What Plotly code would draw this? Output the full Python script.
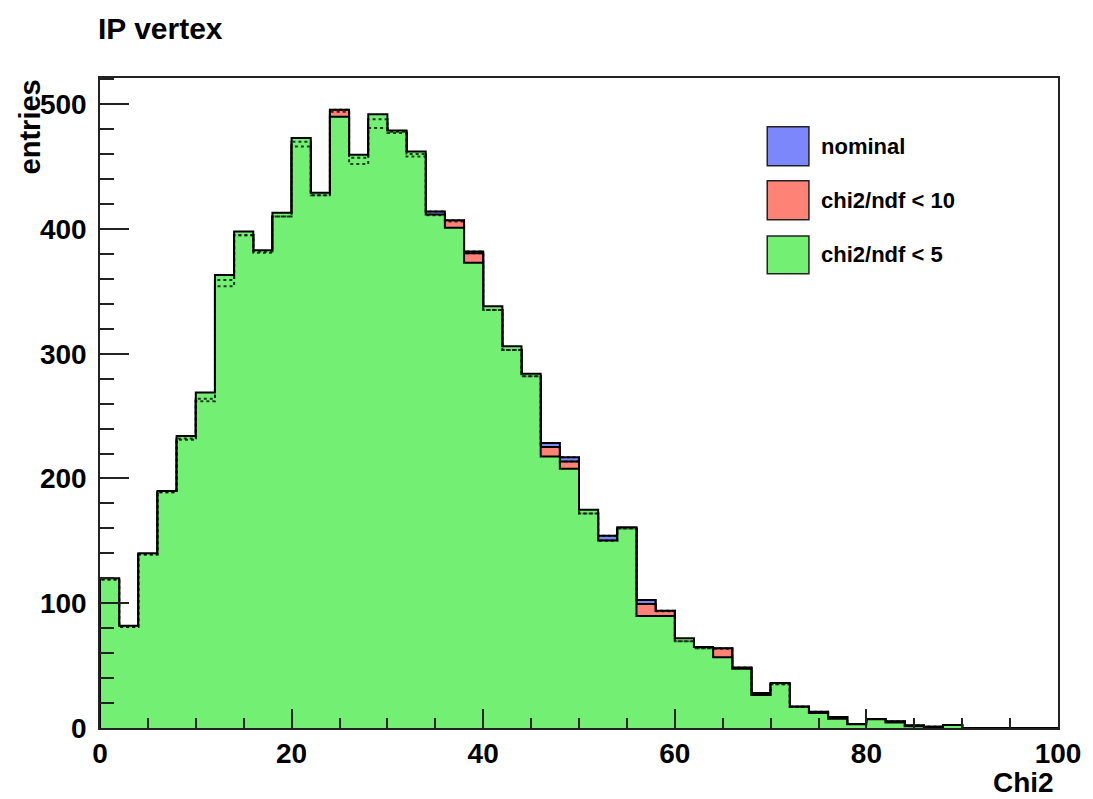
import plotly.graph_objects as go

# Histogram binning: 50 bins of width 2 on [0, 100]
bin_edges = list(range(0, 102, 2))

# Entries per bin for the three vertex selections
nominal = [119, 81, 139, 189, 231, 262, 354, 395, 381, 410,
           466, 427, 494, 452, 481, 477, 458, 414, 406, 382,
           335, 303, 282, 228.5, 217, 172, 154, 160, 102.6, 93.5,
           69.5, 64, 63.5, 48.5, 28, 35, 17, 13, 8.8, 3.2,
           7.2, 5.5, 2, 1, 2.5, 0, 0, 0, 0, 0]
chi2_lt10 = [119, 81, 139, 189, 232, 264, 359, 395, 382, 410,
             470, 427, 495.5, 457, 488, 478, 460, 411, 407, 380.5,
             335, 303, 282, 225.3, 213.6, 172, 150, 160, 99.4, 94,
             69.5, 64, 64, 48, 27, 35, 17, 12.5, 8.5, 3.2,
             7.2, 5, 2, 1, 2.5, 0, 0, 0, 0, 0]
chi2_lt5 = [120, 82, 140, 190, 234, 269, 363, 398, 383, 413,
            473, 429, 490, 459.5, 492, 479, 462, 411.5, 401, 373,
            338, 306, 284, 217.6, 207.8, 175, 150.3, 161, 89.8, 89.8,
            72, 65, 56.7, 47.5, 26.5, 36, 17, 12, 7.5, 3,
            7, 4.5, 1.5, 0, 2.5, 0, 0, 0, 0, 0]

series_names = ["nominal", "chi2/ndf < 10", "chi2/ndf < 5"]
series_colors = ["rgb(125,135,252)", "rgb(255,130,118)", "rgb(115,240,115)"]

FONT = "Liberation Sans, Arial, Helvetica, sans-serif"


def step_xy(vals):
    """Closed histogram outline: rises at the first edge, drops at the last."""
    xs = [bin_edges[0]] + bin_edges[:-1] + [bin_edges[-1]]
    ys = [0] + list(vals) + [0]
    return xs, ys


fig = go.Figure()

for name, vals, col in zip(series_names, [nominal, chi2_lt10, chi2_lt5], series_colors):
    xs, ys = step_xy(vals)
    fig.add_trace(go.Scatter(
        x=xs, y=ys, mode="lines", name=name,
        line=dict(shape="hv", color="black", width=2),
        fill="tozeroy", fillcolor=col,
        showlegend=False, hoverinfo="skip",
    ))

# outlines of the lower histograms seen through the stippled green fill
for vals in (nominal, chi2_lt10):
    xs, ys = step_xy(vals)
    fig.add_trace(go.Scatter(
        x=xs, y=ys, mode="lines",
        line=dict(shape="hv", color="rgba(0,0,0,0.75)", width=2, dash="dot"),
        showlegend=False, hoverinfo="skip",
    ))

axis_common = dict(
    showline=True, linecolor="#222", linewidth=1.5, mirror=True,
    showgrid=False, zeroline=False,
    ticks="inside", tickcolor="#222", tickwidth=1.5,
    tickfont=dict(family=FONT, size=28, color="black", weight="bold"),
)

fig.update_xaxes(
    range=[0, 100], tick0=0, dtick=20, ticklen=19,
    minor=dict(dtick=5, ticklen=10, ticks="inside", tickcolor="#222", tickwidth=1.5),
    ticklabelstandoff=0,
    **axis_common,
)
fig.update_yaxes(
    range=[0, 521], tick0=0, dtick=100, ticklen=29,
    minor=dict(dtick=20, ticklen=14, ticks="inside", tickcolor="#222", tickwidth=1.5),
    ticklabelstandoff=6,
    **axis_common,
)

annotations = [
    dict(text="<b>IP vertex</b>", x=0, xref="paper", xanchor="left", xshift=-4,
         y=1, yref="paper", yanchor="middle", yshift=50,
         showarrow=False, font=dict(family=FONT, size=30, color="black")),
    dict(text="<b>entries</b>", textangle=-90, x=0, xref="paper", xanchor="center", xshift=-70,
         y=0.924, yref="paper", yanchor="middle",
         showarrow=False, font=dict(family=FONT, size=29, color="black")),
    dict(text="<b>Chi2</b>", x=1, xref="paper", xanchor="right", xshift=-2,
         y=0, yref="paper", yanchor="middle", yshift=-54,
         showarrow=False, font=dict(family=FONT, size=28, color="black")),
]

# legend: filled boxes with labels in the upper right of the frame
legend_boxes = [(0.925, 0.865), (0.842, 0.782), (0.757, 0.699)]
shapes = []
for (top, bottom), name, col in zip(legend_boxes, series_names, series_colors):
    shapes.append(dict(type="rect", xref="paper", yref="paper",
                       x0=0.6965, x1=0.740, y0=bottom, y1=top,
                       fillcolor=col, line=dict(color="#222", width=1.5)))
    annotations.append(dict(text="<b>%s</b>" % name, x=0.7505, xref="paper", xanchor="left",
                            y=(top + bottom) / 2, yref="paper", yanchor="middle",
                            showarrow=False, font=dict(family=FONT, size=22, color="black")))

fig.update_layout(
    width=1093, height=799,
    margin=dict(l=100, r=31, t=78, b=71),
    paper_bgcolor="white", plot_bgcolor="white",
    showlegend=False,
    annotations=annotations, shapes=shapes,
)

fig.write_html("out.html")
